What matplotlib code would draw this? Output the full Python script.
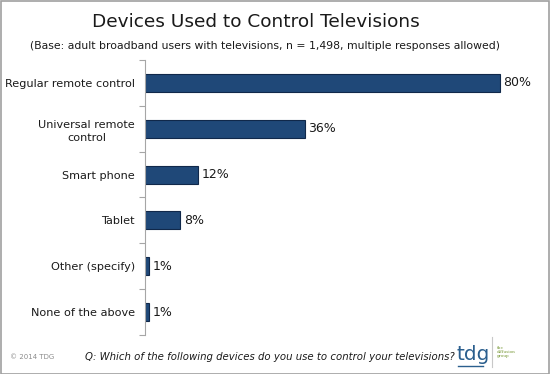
import matplotlib.pyplot as plt
from matplotlib.patches import Rectangle

categories = ["Regular remote control", "Universal remote\ncontrol", "Smart phone",
              "Tablet", "Other (specify)", "None of the above"]
values = [80, 36, 12, 8, 1, 1]
value_labels = ["80%", "36%", "12%", "8%", "1%", "1%"]

title = "Devices Used to Control Televisions"
subtitle = "(Base: adult broadband users with televisions, n = 1,498, multiple responses allowed)"
question = "Q: Which of the following devices do you use to control your televisions?"

bar_color = "#1F4878"
edge_color = "#10284A"
spine_color = "#A6A6A6"

fig = plt.figure(figsize=(5.5, 3.74), dpi=100)
fig.patch.set_facecolor("white")

# thin grey frame round the whole picture
fig.patches.append(Rectangle((0.001, 0.001), 0.997, 0.996, transform=fig.transFigure,
                             fill=False, edgecolor="#A0A0A0", linewidth=1.2))

ax = fig.add_axes([0.2636, 0.1043, 0.726, 0.7353])
ypos = list(range(len(categories)))
ax.barh(ypos, values, height=0.39, color=bar_color, edgecolor=edge_color, linewidth=0.8)
for y, v, lab in zip(ypos, values, value_labels):
    ax.text(v + 0.8, y, lab, va="center", ha="left", fontsize=9, color="#1A1A1A")

ax.set_xlim(0, 90)
ax.set_ylim(len(categories) - 0.5, -0.5)
ax.set_yticks(ypos)
ax.set_yticklabels(categories, fontsize=8.1, color="#1A1A1A", linespacing=1.45)
for lab in ax.get_yticklabels():
    lab.set_multialignment("center")
ax.tick_params(axis="y", which="major", length=0, pad=7.2)
ax.set_yticks([i - 0.5 for i in range(len(categories) + 1)], minor=True)
ax.tick_params(axis="y", which="minor", length=4, color=spine_color, width=0.8)
ax.set_xticks([])
for s in ["top", "right", "bottom"]:
    ax.spines[s].set_visible(False)
ax.spines["left"].set_color(spine_color)
ax.spines["left"].set_linewidth(0.8)

fig.text(0.465, 0.94, title, ha="center", va="center", fontsize=13.3, color="#1A1A1A")
fig.text(0.4815, 0.877, subtitle, ha="center", va="center", fontsize=7.8, color="#1A1A1A")
fig.text(0.018, 0.045, "\u00a9 2014 TDG", ha="left", va="center", fontsize=5, color="#8C8C8C")
fig.text(0.155, 0.045, question, ha="left", va="center", fontsize=7.3,
         style="italic", color="#1A1A1A")

# logo
fig.text(0.83, 0.052, "tdg", ha="left", va="center", fontsize=14.5, color="#2B5F8E")
fig.add_artist(plt.Line2D([0.832, 0.878], [0.022, 0.022], transform=fig.transFigure,
                          color="#2B5F8E", linewidth=1))
fig.add_artist(plt.Line2D([0.895, 0.895], [0.02, 0.1], transform=fig.transFigure,
                          color="#C8C8C8", linewidth=0.8))
fig.text(0.903, 0.06, "the\ndiffusion\ngroup", ha="left", va="center", fontsize=3,
         color="#7A9A3A", linespacing=1.0, family="serif")

fig.savefig("out.png", dpi=100)
